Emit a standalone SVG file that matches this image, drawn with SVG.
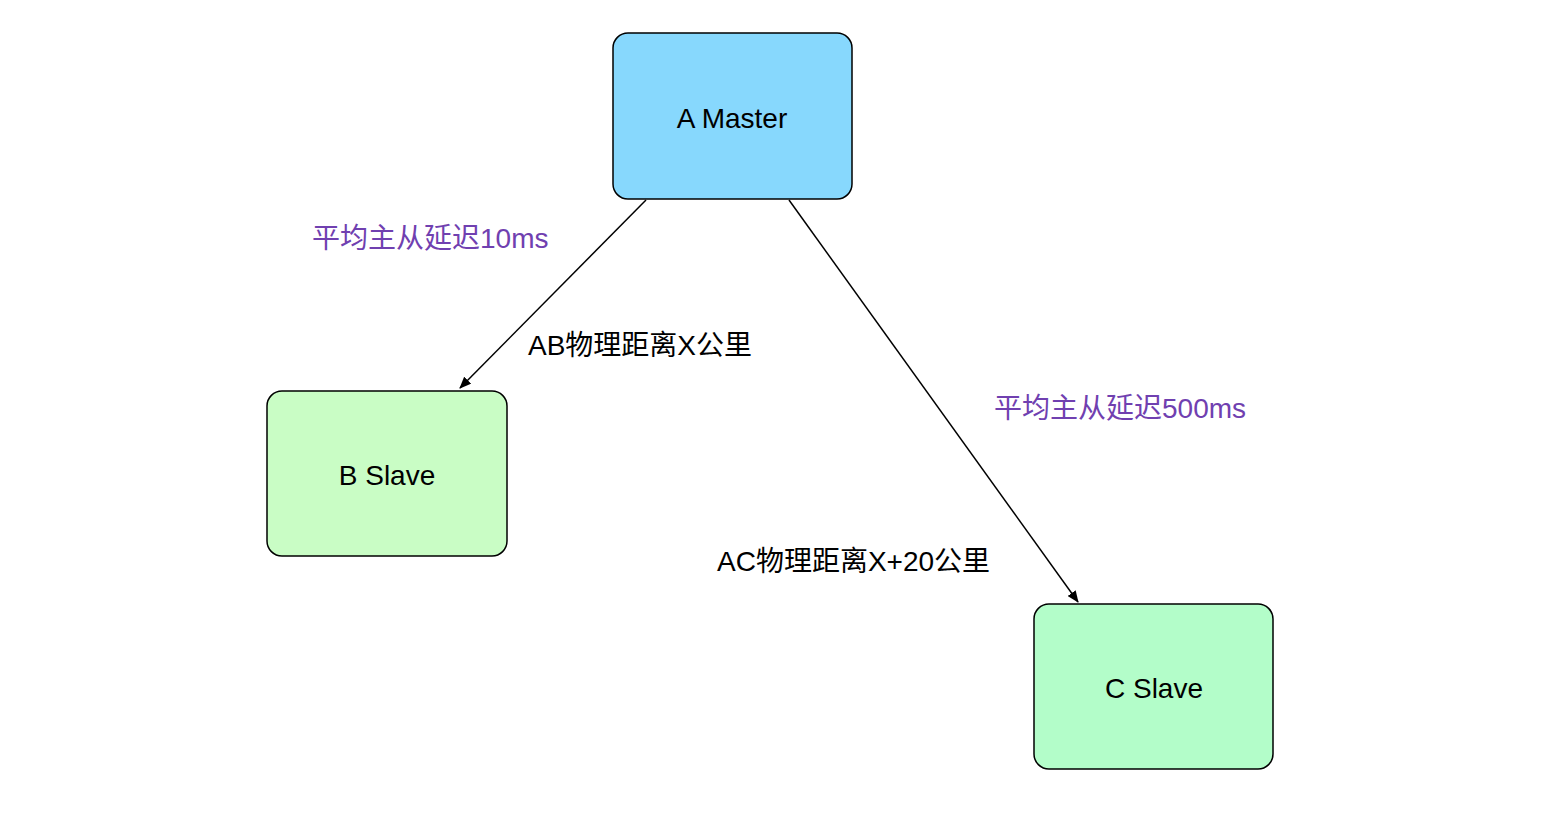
<svg xmlns="http://www.w3.org/2000/svg" width="1554" height="826" viewBox="0 0 1554 826">
<style>
.n{stroke:#000;stroke-width:1.5}
text{font-family:"Liberation Sans","Noto Sans CJK SC",sans-serif;font-size:28px}
.c{text-anchor:middle}
.p{fill:#7040b0}
.l{stroke:#000;stroke-width:1.5;fill:none}
</style>
<defs><marker id="ah" markerWidth="12" markerHeight="10" refX="11" refY="5" orient="auto" markerUnits="userSpaceOnUse"><path d="M0,0L12,5L0,10Z" fill="#000"/></marker></defs>
<rect width="1554" height="826" fill="#fff"/>
<g id="edges">
<line class="l" x1="646" y1="200" x2="460" y2="388" marker-end="url(#ah)"/>
<line class="l" x1="789" y1="200" x2="1078" y2="602" marker-end="url(#ah)"/>
<text class="p" x="312" y="248">平均主从延迟10ms</text>
<text x="528" y="355">AB物理距离X公里</text>
<text class="p" x="994" y="418">平均主从延迟500ms</text>
<text x="717" y="571">AC物理距离X+20公里</text>
</g>
<g id="A"><rect class="n" x="613" y="33" width="239" height="166" rx="15" fill="#87d8fd"/><text class="c" x="732" y="128">A Master</text></g>
<g id="B"><rect class="n" x="267" y="391" width="240" height="165" rx="15" fill="#c9fdc5"/><text class="c" x="387" y="485">B Slave</text></g>
<g id="C"><rect class="n" x="1034" y="604" width="239" height="165" rx="15" fill="#b3fdc9"/><text class="c" x="1154" y="698">C Slave</text></g>
</svg>
